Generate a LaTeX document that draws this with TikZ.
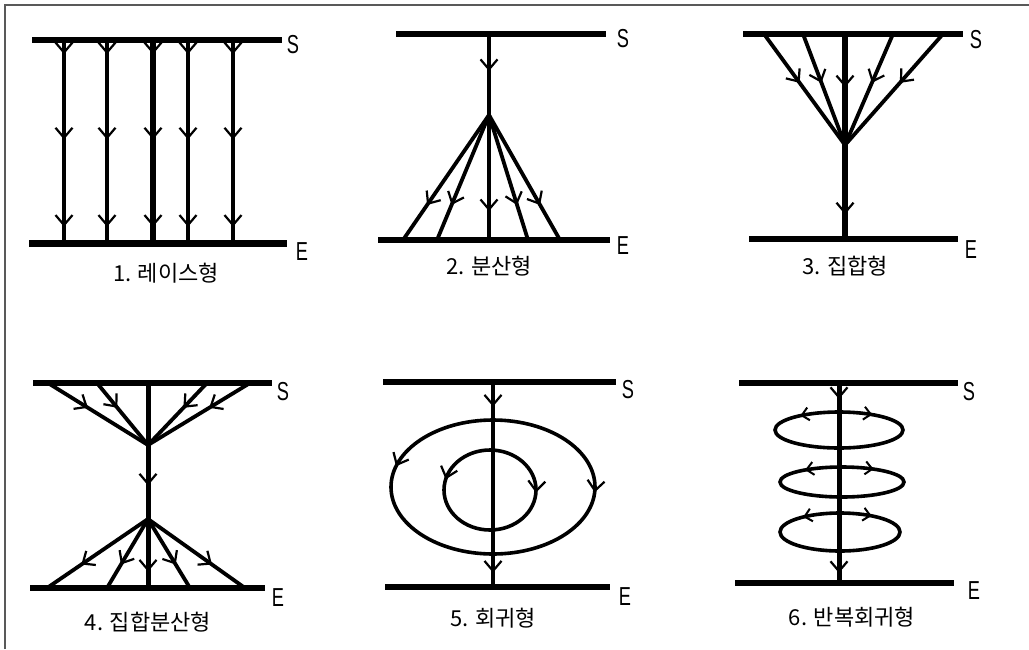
\documentclass[tikz,border=0pt]{standalone}
\usepackage{fontspec}
\newfontfamily\korfont{Noto Sans CJK KR}
\newfontfamily\labfont[FakeStretch=0.7]{Liberation Sans}
\usetikzlibrary{arrows.meta,decorations.markings}
\begin{document}
\begin{tikzpicture}[x=1pt,y=-1pt,
  flowtip/.tip={Straight Barb[length=10pt,width=17pt,line width=2.2pt]},
  smalltip/.tip={Straight Barb[length=7pt,width=13pt,line width=2pt]},
  fm/.style={postaction={decorate,decoration={markings,mark=at position #1 with {\arrow{flowtip}}}}},
  sm/.style={postaction={decorate,decoration={markings,mark=at position #1 with {\arrow{smalltip}}}}},
  hbar/.style={line width=6pt},
  flow/.style={line width=3.8pt},
  mainflow/.style={line width=5.6pt},
  loopline/.style={line width=3.6pt},
  lab/.style={font=\labfont\fontsize{26}{26}\selectfont,inner sep=0pt},
  captext/.style={font=\korfont\fontsize{22}{22}\selectfont,inner sep=0pt},
  frameline/.style={draw=black!65,line width=1.2pt}]
\useasboundingbox (0,0) rectangle (1029,649);
% frame
\coordinate (fb) at (5,649);
\coordinate (ftl) at (5,5);
\coordinate (ftr) at (1029,5);
\draw[frameline] (fb) -- (ftl) -- (ftr);

% ---------- Panel 1 ----------
\coordinate (s1a) at (32,40); \coordinate (s1b) at (282,40);
\coordinate (e1a) at (29,243); \coordinate (e1b) at (287,243);
\draw[hbar] (s1a) -- (s1b);
\draw[hbar,line width=7pt] (e1a) -- (e1b);
\node[lab] (S1) at (293,45) {S};
\node[lab] (E1) at (302,252) {E};
\foreach \x/\n in {64/a,107/b,188/d,233/e}{
  \coordinate (p1t\n) at (\x,40); \coordinate (p1b\n) at (\x,243);
  \draw[flow,fm=0.07,fm=0.49,fm=0.92] (p1t\n) -- (p1b\n);
}
\coordinate (p1tc) at (153,40); \coordinate (p1bc) at (153,243);
\draw[mainflow,fm=0.07,fm=0.49,fm=0.92] (p1tc) -- (p1bc);
\node[captext] (C1) at (166,273) {1. 레이스형};

% ---------- Panel 2 ----------
\coordinate (s2a) at (396,34); \coordinate (s2b) at (606,34);
\coordinate (e2a) at (378,240); \coordinate (e2b) at (610,240);
\draw[hbar] (s2a) -- (s2b);
\draw[hbar] (e2a) -- (e2b);
\node[lab] (S2) at (623,39) {S};
\node[lab] (E2) at (623,246) {E};
\coordinate (v2t) at (489,34); \coordinate (v2b) at (489,240);
\draw[flow,line width=4.2pt,fm=0.18,fm=0.86] (v2t) -- (v2b);
\coordinate (ap2) at (489,115);
\foreach \x/\n in {403/a,437/b,528/c,560/d}{
  \coordinate (b2\n) at (\x,240);
  \draw[flow,fm=0.72] (ap2) -- (b2\n);
}
\node[captext] (C2) at (489,266) {2. 분산형};

% ---------- Panel 3 ----------
\coordinate (s3a) at (743,34); \coordinate (s3b) at (963,34);
\coordinate (e3a) at (749,239); \coordinate (e3b) at (958,239);
\draw[hbar] (s3a) -- (s3b);
\draw[hbar] (e3a) -- (e3b);
\node[lab] (S3) at (976,40) {S};
\node[lab] (E3) at (971,250) {E};
\coordinate (v3t) at (845,34); \coordinate (v3b) at (845,239);
\draw[mainflow,fm=0.26,fm=0.88] (v3t) -- (v3b);
\coordinate (cv3) at (845,145);
\foreach \x/\n in {764/a,803/b,893/c,943/d}{
  \coordinate (t3\n) at (\x,34);
  \draw[flow,fm=0.44] (t3\n) -- (cv3);
}
\node[captext] (C3) at (845,266) {3. 집합형};

% ---------- Panel 4 ----------
\coordinate (s4a) at (33,383); \coordinate (s4b) at (272,383);
\coordinate (e4a) at (30,588); \coordinate (e4b) at (265,588);
\draw[hbar] (s4a) -- (s4b);
\draw[hbar] (e4a) -- (e4b);
\node[lab] (S4) at (283,392) {S};
\node[lab] (E4) at (278,598) {E};
\coordinate (v4t) at (148,383); \coordinate (v4b) at (148,588);
\draw[mainflow,line width=5pt,fm=0.5,fm=0.92] (v4t) -- (v4b);
\coordinate (cv4) at (148,445);
\foreach \x/\n in {48/a,97/b,207/c,250/d}{
  \coordinate (t4\n) at (\x,383);
  \draw[flow,fm=0.4] (t4\n) -- (cv4);
}
\coordinate (dv4) at (148,519);
\foreach \x/\n in {47/a,107/b,190/c,245/d}{
  \coordinate (b4\n) at (\x,588);
  \draw[flow,fm=0.66] (dv4) -- (b4\n);
}
\node[captext] (C4) at (148,622) {4. 집합분산형};

% ---------- Panel 5 ----------
\coordinate (s5a) at (383,382); \coordinate (s5b) at (616,382);
\coordinate (e5a) at (385,587); \coordinate (e5b) at (610,587);
\draw[hbar] (s5a) -- (s5b);
\draw[hbar] (e5a) -- (e5b);
\node[lab] (S5) at (628,390) {S};
\node[lab] (E5) at (625,597) {E};
\coordinate (v5t) at (493,382); \coordinate (v5b) at (493,587);
\draw[flow,fm=0.12,fm=0.93] (v5t) -- (v5b);
% outer loop
\coordinate (o5t) at (493,420);
\draw[loopline,fm=0.42] (o5t) arc[start angle=270,end angle=90,x radius=102,y radius=67];
\draw[loopline,fm=0.52] (o5t) arc[start angle=-90,end angle=90,x radius=102,y radius=67];
% inner loop
\coordinate (i5t) at (490,450);
\draw[loopline,fm=0.42] (i5t) arc[start angle=270,end angle=90,x radius=46,y radius=40];
\draw[loopline,fm=0.52] (i5t) arc[start angle=-90,end angle=90,x radius=46,y radius=40];
\node[captext] (C5) at (493,618) {5. 회귀형};

% ---------- Panel 6 ----------
\coordinate (s6a) at (739,383); \coordinate (s6b) at (958,383);
\coordinate (e6a) at (735,583); \coordinate (e6b) at (954,583);
\draw[hbar] (s6a) -- (s6b);
\draw[hbar] (e6a) -- (e6b);
\node[lab] (S6) at (969,392) {S};
\node[lab] (E6) at (974,591) {E};
\coordinate (v6t) at (839,383); \coordinate (v6b) at (839,583);
\draw[mainflow,line width=5pt,fm=0.08,fm=0.95] (v6t) -- (v6b);
\foreach \cx/\cy/\rx/\ry/\n in {839/412/64/18/a,842/467/62/15/b,840/513/60/19/c}{
  \coordinate (l6\n) at (\cx,\cy);
  \draw[loopline,sm=0.28] (l6\n) arc[start angle=270,end angle=90,x radius=\rx,y radius=\ry];
  \draw[loopline,sm=0.24] (l6\n) arc[start angle=-90,end angle=90,x radius=\rx,y radius=\ry];
}
\node[captext] (C6) at (852,617) {6. 반복회귀형};
\end{tikzpicture}
\end{document}
